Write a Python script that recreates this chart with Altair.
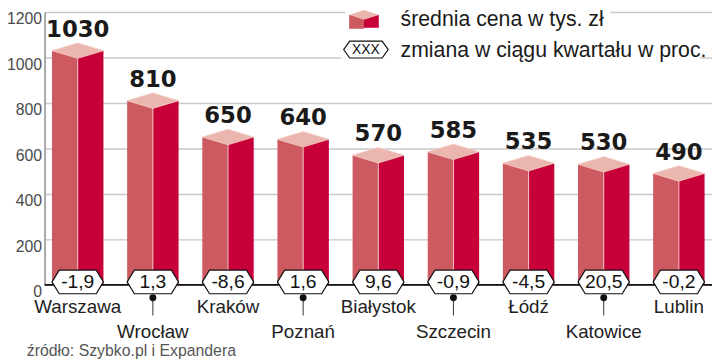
import altair as alt
import pandas as pd

cities = ["Warszawa", "Wrocław", "Kraków", "Poznań", "Białystok",
          "Szczecin", "Łódź", "Katowice", "Lublin"]
prices = [1030, 810, 650, 640, 570, 585, 535, 530, 490]
changes = ["-1,9", "1,3", "-8,6", "1,6", "9,6", "-0,9", "-4,5", "20,5", "-0,2"]
label_rows = [1, 2, 1, 2, 1, 2, 1, 2, 1]
y_ticks = [0, 200, 400, 600, 800, 1000, 1200]

legend_price = "średnia cena w tys. zł"
legend_change = "zmiana w ciągu kwartału w proc."
legend_hex_text = "XXX"
source = "źródło: Szybko.pl i Expandera"

df = pd.DataFrame({"city": cities, "price": prices, "change": changes, "row": label_rows})
dummy = pd.DataFrame({"a": [0]})

LEFT_C = "#cc5a60"
RIGHT_C = "#c8003a"
TOP_C = "#eab6ad"
FONT = "Liberation Sans"

DIAMOND = "M-1,0L0,-0.3L1,0L0,0.3Z"
HEX = "M-1,0L-0.72,-0.46L0.72,-0.46L1,0L0.72,0.46L-0.72,0.46Z"
HEX_SMALL = "M-1,0L-0.73,-0.38L0.73,-0.38L1,0L0.73,0.38L-0.73,0.38Z"
DIAMOND_SMALL = "M-1,0L0,-0.33L1,0L0,0.33Z"

x = alt.X("city:N", sort=cities,
          scale=alt.Scale(paddingInner=0.316, paddingOuter=0.099), axis=None)
y = alt.Y("price:Q", scale=alt.Scale(domain=[0, 1200]),
          axis=alt.Axis(values=y_ticks, format="d", title=None, ticks=False, labelFontSize=16,
                        labelColor="#4a4a4a", labelFont=FONT, labelPadding=3,
                        labelBaseline="top", labelOffset=-1,
                        gridColor="#c9c9c9", gridWidth=1.5,
                        domainColor="#a8a8a8", domainWidth=2))

base = alt.Chart(df)

left_face = base.mark_bar(width=26, xOffset=-13, color=LEFT_C).encode(x=x, y=y, y2=alt.datum(0))
right_face = base.mark_bar(width=26, xOffset=13, color=RIGHT_C).encode(x=x, y="price:Q", y2=alt.datum(0))
sep = base.mark_rule(color="#f1c4be", strokeWidth=1).encode(x=x, y="price:Q", y2=alt.datum(0))
top_face = base.mark_point(shape=DIAMOND, size=2704, filled=True, fill=TOP_C,
                           stroke="#f3cdc6", strokeWidth=0.8, opacity=1).encode(x=x, y="price:Q")
value_text = base.mark_text(dy=-14, baseline="alphabetic", fontSize=23, font="DejaVu Sans",
                            fontWeight="bold", color="#1a1a1a").encode(x=x, y="price:Q", text="price:Q")

zero_line = alt.Chart(dummy).mark_rule(color="#111111", strokeWidth=2).encode(y=alt.datum(0))

hexes = base.mark_point(shape=HEX, size=2704, filled=True, fill="white", stroke="#111111",
                        strokeWidth=1.2, opacity=1, yOffset=-3).encode(x=x, y=alt.datum(0))
hex_text = base.mark_text(dy=-3, baseline="middle", fontSize=19.5, font=FONT,
                          color="#111111").encode(x=x, y=alt.datum(0), text="change:N")

row1 = base.transform_filter(alt.datum.row == 1).mark_text(
    dy=22, baseline="middle", fontSize=19, font=FONT, color="#222222"
).encode(x=x, y=alt.datum(0), text="city:N")
row2 = base.transform_filter(alt.datum.row == 2).mark_text(
    dy=48, baseline="middle", fontSize=19, font=FONT, color="#222222"
).encode(x=x, y=alt.datum(0), text="city:N")
pin_line = base.transform_filter(alt.datum.row == 2).mark_rule(
    color="#333333", strokeWidth=1, yOffset=13, y2Offset=31
).encode(x=x, y=alt.datum(0), y2=alt.datum(0))
pin_dot = base.transform_filter(alt.datum.row == 2).mark_point(
    shape="circle", size=49, filled=True, color="#111111", opacity=1, yOffset=13
).encode(x=x, y=alt.datum(0))

# legend
lg = alt.Chart(dummy)
lg_bg1 = lg.mark_rect(color="white").encode(x=alt.value(304), x2=alt.value(572),
                                            y=alt.value(-10), y2=alt.value(22))
lg_bg2 = lg.mark_rect(color="white").encode(x=alt.value(300), x2=alt.value(663),
                                            y=alt.value(28), y2=alt.value(53))
lg_left = lg.mark_rect(color=LEFT_C).encode(x=alt.value(308), x2=alt.value(323),
                                            y=alt.value(3), y2=alt.value(17))
lg_right = lg.mark_rect(color=RIGHT_C).encode(x=alt.value(323), x2=alt.value(338),
                                              y=alt.value(3), y2=alt.value(16))
lg_top = lg.mark_point(shape=DIAMOND_SMALL, size=900, filled=True, fill=TOP_C,
                       opacity=1).encode(x=alt.value(323), y=alt.value(3))
lg_text1 = lg.mark_text(align="left", baseline="middle", fontSize=21.5, font=FONT,
                        color="#1a1a1a", text=legend_price).encode(x=alt.value(360), y=alt.value(8))
lg_hex = lg.mark_point(shape=HEX_SMALL, size=2025, filled=True, fill="white", stroke="#111111",
                       strokeWidth=1.2, opacity=1).encode(x=alt.value(325), y=alt.value(38))
lg_hex_text = lg.mark_text(baseline="middle", fontSize=14, font=FONT, color="#111111",
                           text=legend_hex_text).encode(x=alt.value(325), y=alt.value(38))
lg_text2 = lg.mark_text(align="left", baseline="middle", fontSize=21.5, font=FONT,
                        color="#1a1a1a", text=legend_change).encode(x=alt.value(360), y=alt.value(40))

src = lg.mark_text(align="left", baseline="middle", fontSize=16, font=FONT, color="#555555",
                   text=source).encode(x=alt.value(-18), y=alt.value(343))

chart = alt.layer(
    left_face, right_face, sep, top_face, value_text, zero_line, hexes, hex_text,
    row1, row2, pin_line, pin_dot,
    lg_bg1, lg_bg2, lg_left, lg_right, lg_top, lg_text1, lg_hex, lg_hex_text, lg_text2, src
).properties(
    width=675, height=276,
    padding={"left": 37, "top": 2, "right": 0, "bottom": 77},
    autosize=alt.AutoSizeParams(type="none"),
).configure_view(stroke=None)

chart.save("out.html", embed_options={"renderer": "svg", "actions": False})
